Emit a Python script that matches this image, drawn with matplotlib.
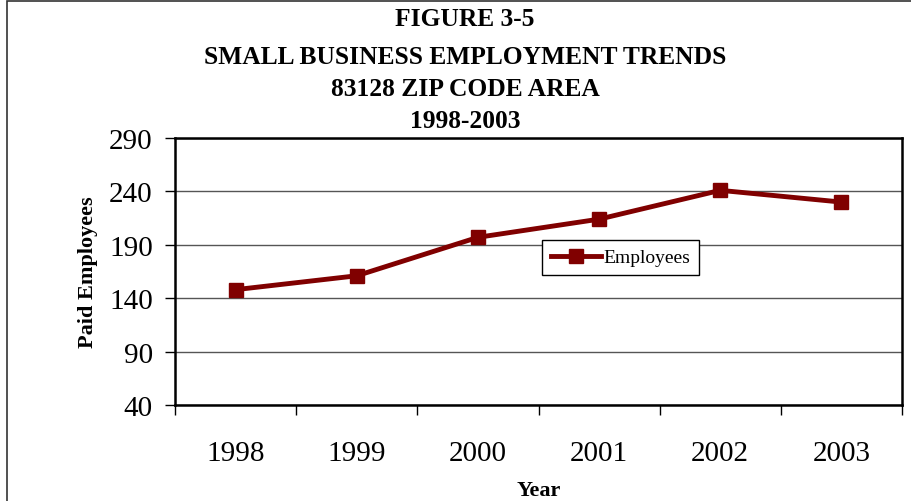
import matplotlib
matplotlib.use("Agg")
import matplotlib.pyplot as plt
from matplotlib.patches import Rectangle
import numpy as np

# data
years = ["1998", "1999", "2000", "2001", "2002", "2003"]
employees = [148, 161, 197, 214, 241, 230]
y_ticks = [40, 90, 140, 190, 240, 290]
title_lines = ["FIGURE 3-5", "SMALL BUSINESS EMPLOYMENT TRENDS",
               "83128 ZIP CODE AREA", "1998-2003"]

plt.rcParams['font.family'] = ['Liberation Serif', 'DejaVu Serif']

W, H = 911, 502
fig = plt.figure(figsize=(W / 100, H / 100), dpi=100)

# outer border of the chart object
fig.patches.append(Rectangle((7 / W, -0.05), 0.995, 1.05 - 2 / H,
                             transform=fig.transFigure, fill=False,
                             edgecolor='#333333', linewidth=1.2))

ax = fig.add_axes([175 / W, (H - 406) / H, 727 / W, 267 / H])

x = np.arange(len(years))
ax.plot(x, employees, color='#800000', linewidth=3.5, marker='s',
        markersize=10, label='Employees')

ax.set_xlim(-0.5, len(years) - 0.5)
ax.set_ylim(40, 290)
ax.set_yticks(y_ticks)
ax.set_xticks(x)
ax.set_xticklabels(years)
ax.set_xticks(np.arange(-0.5, len(years)), minor=True)

ax.tick_params(axis='x', which='major', length=0, pad=25, labelsize=21)
ax.tick_params(axis='x', which='minor', length=7, width=1, direction='out')
ax.tick_params(axis='y', length=7, width=1, pad=9, labelsize=21, direction='out')
ax.grid(axis='y', color='#555555', linewidth=1)
ax.set_axisbelow(True)

for sp in ax.spines.values():
    sp.set_linewidth(1.8)
    sp.set_color('black')

ax.set_xlabel("Year", fontsize=16, fontweight='bold', labelpad=10)
ax.set_ylabel("Paid Employees", fontsize=16, fontweight='bold', labelpad=8)

leg = ax.legend(loc='upper left', bbox_to_anchor=(0.505, 0.618), borderaxespad=0,
                fancybox=False, framealpha=1, edgecolor='black', fontsize=14,
                handlelength=2.6, borderpad=0.45, handletextpad=0.1)
leg.get_frame().set_linewidth(1)

title_y = [20, 57, 89, 122]
for line, ty in zip(title_lines, title_y):
    fig.text(465 / W, 1 - ty / H, line, ha='center', va='center',
             fontsize=18.4, fontweight='bold')

fig.savefig("out.png", dpi=100)
